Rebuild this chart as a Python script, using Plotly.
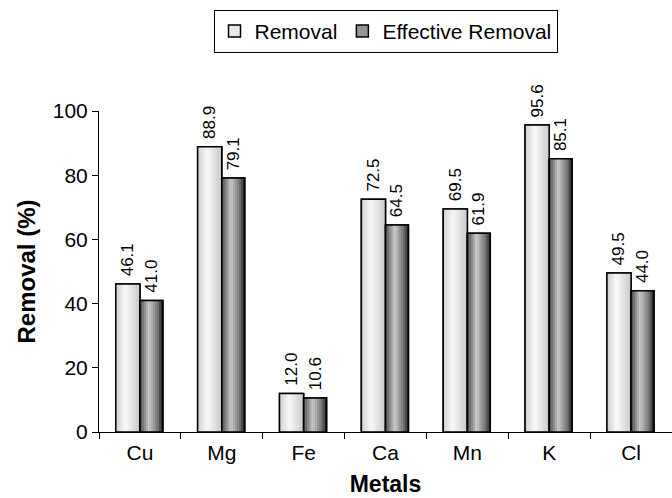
import plotly.graph_objects as go

metals = ["Cu", "Mg", "Fe", "Ca", "Mn", "K", "Cl"]
removal = [46.1, 88.9, 12.0, 72.5, 69.5, 95.6, 49.5]
effective_removal = [41.0, 79.1, 10.6, 64.5, 61.9, 85.1, 44.0]
series_names = ["Removal", "Effective Removal"]

FONT = "Liberation Sans, Arial, sans-serif"
N = 12


def lerp(a, b, t):
    return a + (b - a) * t


def shade(stops, t):
    for (p0, g0), (p1, g1) in zip(stops, stops[1:]):
        if p0 <= t <= p1:
            g = int(round(lerp(g0, g1, (t - p0) / (p1 - p0))))
            return f"rgb({g},{g},{g})"
    g = stops[-1][1]
    return f"rgb({g},{g},{g})"


specs = [
    (series_names[0], removal, -0.295, 0.295, [(0, 205), (0.4, 250), (1, 200)], "rgb(232,232,232)"),
    (series_names[1], effective_removal, 0.0, 0.28, [(0, 70), (0.4, 205), (0.8, 110), (1, 20)], "rgb(150,150,150)"),
]

fig = go.Figure()

for name, vals, off, w, stops, mid in specs:
    fig.add_trace(go.Bar(
        x=metals, y=vals, name=name, offset=off, width=w,
        marker=dict(color=mid, line=dict(color="black", width=1.5)),
        showlegend=True, hoverinfo="skip",
    ))
    sw = w / N
    for i in range(N):
        t = (i + 0.5) / N
        fig.add_trace(go.Bar(
            x=metals, y=vals, offset=off + i * sw, width=sw * 1.05,
            marker=dict(color=shade(stops, t), line=dict(width=0)),
            showlegend=False, hoverinfo="skip",
        ))
    fig.add_trace(go.Bar(
        x=metals, y=vals, offset=off, width=w,
        marker=dict(color="rgba(0,0,0,0)", line=dict(color="black", width=1.5)),
        text=["\u00a0" + f"{v:.1f}" for v in vals], textposition="outside", textangle=-90,
        constraintext="none",
        textfont=dict(size=17, color="black", family=FONT),
        cliponaxis=False, showlegend=False,
    ))

fig.update_layout(
    barmode="overlay",
    width=672, height=498,
    margin=dict(l=99, r=0, t=111, b=66),
    paper_bgcolor="white", plot_bgcolor="white",
    font=dict(family=FONT, size=21, color="black"),
    legend=dict(
        orientation="h", x=0.5, xanchor="center", y=1.315, yanchor="top",
        bordercolor="black", borderwidth=1, bgcolor="white",
        font=dict(size=21, family=FONT), itemwidth=30,
    ),
    xaxis=dict(
        title=dict(text="<b>Metals</b>", font=dict(size=23, family=FONT), standoff=12),
        showline=True, linecolor="black", linewidth=1,
        ticks="outside", tickson="boundaries", ticklen=6, tickcolor="black",
        showgrid=False, tickfont=dict(size=21), ticklabelstandoff=2,
    ),
    yaxis=dict(
        title=dict(text="<b>Removal (%)</b>", font=dict(size=24, family=FONT), standoff=10),
        range=[0, 100], tickvals=[0, 20, 40, 60, 80, 100],
        showline=True, linecolor="black", linewidth=1,
        ticks="outside", ticklen=6, tickcolor="black",
        showgrid=False, zeroline=False, tickfont=dict(size=21),
    ),
)

fig.write_html("out.html")
